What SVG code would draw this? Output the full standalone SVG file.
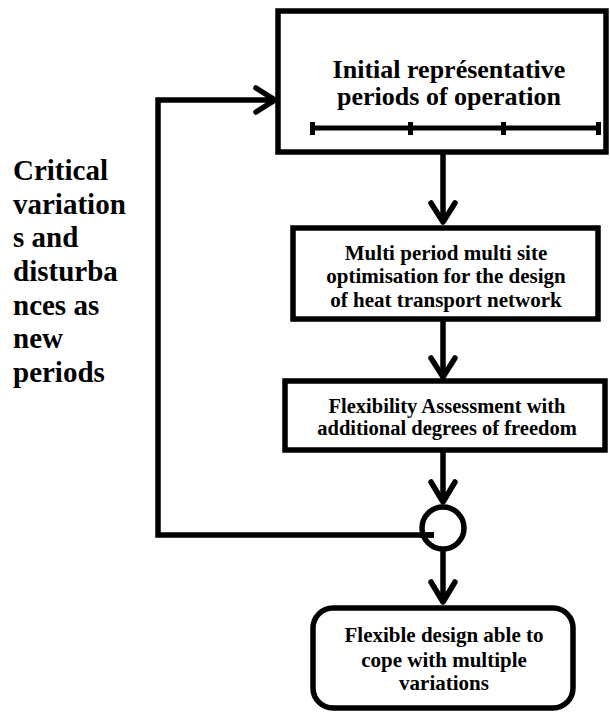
<svg xmlns="http://www.w3.org/2000/svg" width="610" height="713" viewBox="0 0 610 713">
<style>
.box{fill:#fff;stroke:#000;stroke-width:5.5}
.ln{fill:none;stroke:#000;stroke-width:5.5}
.hd{fill:none;stroke:#000;stroke-width:5.5;stroke-linecap:round;stroke-linejoin:round}
.c{text-anchor:middle}
.t{font-family:'Liberation Serif','Times New Roman',Times,Tinos,'Noto Serif','DejaVu Serif',FreeSerif,Georgia,serif;font-weight:700;fill:#000}
</style>
<rect width="610" height="713" fill="#fff"/>
<g id="connectors">
<line class="ln" x1="443" y1="152" x2="443" y2="222"/>
<polyline class="hd" points="431,203 443,222 455,203"/>
<line class="ln" x1="443" y1="319" x2="443" y2="377"/>
<polyline class="hd" points="431,358 443,377 455,358"/>
<line class="ln" x1="443" y1="450" x2="443" y2="502"/>
<polyline class="hd" points="431,482 443,502 455,482"/>
<line class="ln" x1="443" y1="549" x2="443" y2="602"/>
<polyline class="hd" points="431,582 443,602 455,582"/>
<polyline class="ln" points="434,535 158,535 158,100 275,100"/>
<polyline class="hd" points="256,88 275,100 256,112"/>
</g>
<g id="node-initial">
<rect class="box" x="278" y="11" width="328" height="141"/>
<text class="t c" x="449" y="78" font-size="26">Initial représentative</text>
<text class="t c" x="449" y="105" font-size="26">periods of operation</text>
<line x1="312" y1="128" x2="598" y2="128" stroke="#000" stroke-width="5"/>
<rect x="310" y="122" width="5" height="13"/>
<rect x="408" y="122" width="5" height="13"/>
<rect x="501" y="122" width="5" height="13"/>
<rect x="596" y="122" width="5" height="13"/>
</g>
<g id="node-optimisation">
<rect class="box" x="293" y="228" width="305" height="91"/>
<text class="t c" x="446" y="260" font-size="21">Multi period multi site</text>
<text class="t c" x="446" y="283" font-size="21">optimisation for the design</text>
<text class="t c" x="446" y="306.5" font-size="21">of heat transport network</text>
</g>
<g id="node-flexibility">
<rect class="box" x="285" y="381" width="320" height="69"/>
<text class="t c" x="447" y="413" font-size="20.5">Flexibility Assessment with</text>
<text class="t c" x="447" y="435" font-size="20.5">additional degrees of freedom</text>
</g>
<g id="node-decision">
<circle cx="443" cy="528" r="21" fill="none" stroke="#000" stroke-width="5.5"/>
<line x1="420" y1="535" x2="434" y2="535" stroke="#000" stroke-width="5.5"/>
</g>
<g id="node-final">
<rect class="box" x="313" y="608" width="260" height="100" rx="20"/>
<text class="t c" x="444" y="642" font-size="21">Flexible design able to</text>
<text class="t c" x="444" y="666.5" font-size="21">cope with multiple</text>
<text class="t c" x="444" y="690" font-size="21">variations</text>
</g>
<g id="label-feedback">
<text class="t" x="13" y="180" font-size="29">Critical</text>
<text class="t" x="13" y="213.5" font-size="29">variation</text>
<text class="t" x="13" y="247" font-size="29">s and</text>
<text class="t" x="13" y="281" font-size="29">disturba</text>
<text class="t" x="13" y="314.5" font-size="29">nces as</text>
<text class="t" x="13" y="348" font-size="29">new</text>
<text class="t" x="13" y="381.5" font-size="29">periods</text>
</g>
</svg>
